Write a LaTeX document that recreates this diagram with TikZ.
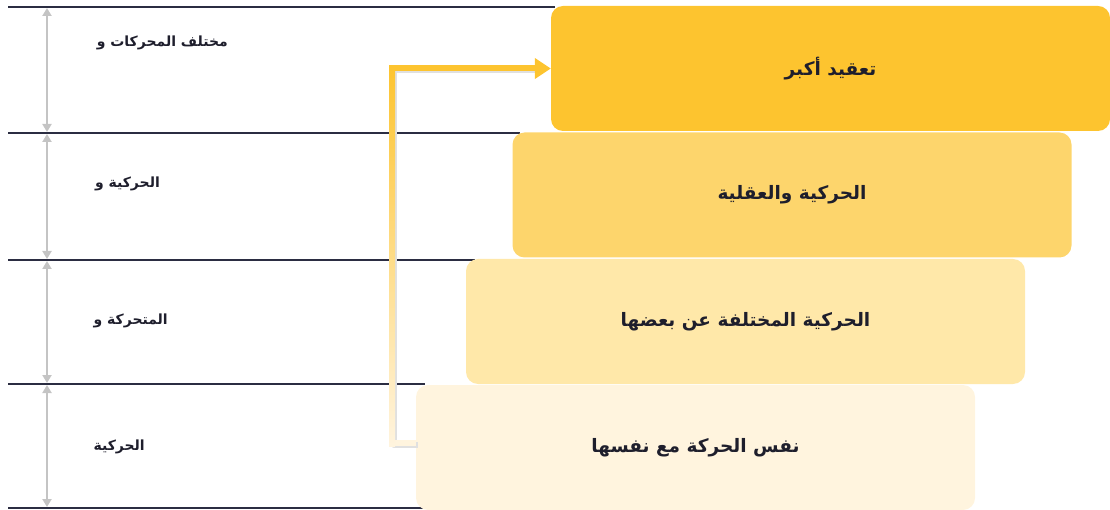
\documentclass[tikz,border=0pt]{standalone}
\usepackage{fontspec}
\newfontfamily\arabicfont[Script=Arabic]{DejaVu Sans}
\TeXXeTstate=1
\usetikzlibrary{arrows.meta}
\definecolor{navy}{HTML}{2B2D42}
\definecolor{greyarr}{HTML}{C4C4C4}
\definecolor{txt}{HTML}{1E1E2C}
\definecolor{cA}{HTML}{FDC42F}
\definecolor{cB}{HTML}{FDD56C}
\definecolor{cC}{HTML}{FFE8A9}
\definecolor{cD}{HTML}{FFF4DE}
\begin{document}
\begin{tikzpicture}[x=1pt,y=-1pt,
  sep/.style={draw=navy,line width=2pt},
  dim/.style={draw=greyarr,line width=2pt,{Triangle[length=8pt,width=9pt]}-{Triangle[length=8pt,width=9pt]}},
  lvl/.style={rounded corners=12pt,minimum width=559pt,minimum height=125pt,inner sep=0pt,text=txt,font=\arabicfont\bfseries\fontsize{18.5}{22}\selectfont},
  lab/.style={anchor=east,inner sep=0pt,text=txt,font=\arabicfont\bfseries\fontsize{14}{16}\selectfont},
  conn/.style={line width=6pt}]
\useasboundingbox (0,0) rectangle (1110,510);
% separator lines
\coordinate (l0a) at (8,7);   \coordinate (l0b) at (555,7);
\coordinate (l1a) at (8,133); \coordinate (l1b) at (520,133);
\coordinate (l2a) at (8,260); \coordinate (l2b) at (475,260);
\coordinate (l3a) at (8,384); \coordinate (l3b) at (425,384);
\coordinate (l4a) at (8,508); \coordinate (l4b) at (425,508);
\draw[sep] (l0a) -- (l0b);
\draw[sep] (l1a) -- (l1b);
\draw[sep] (l2a) -- (l2b);
\draw[sep] (l3a) -- (l3b);
\draw[sep] (l4a) -- (l4b);
% dimension arrows
\coordinate (d0) at (47,8);   \coordinate (d1) at (47,132);
\coordinate (d2) at (47,134); \coordinate (d3) at (47,259);
\coordinate (d4) at (47,261); \coordinate (d5) at (47,383);
\coordinate (d6) at (47,385); \coordinate (d7) at (47,507);
\draw[dim] (d0) -- (d1);
\draw[dim] (d2) -- (d3);
\draw[dim] (d4) -- (d5);
\draw[dim] (d6) -- (d7);
% labels
\node[lab] (t1) at (228,43) {\beginR مختلف المحركات و\endR};
\node[lab] (t2) at (160,184) {\beginR الحركية و\endR};
\node[lab] (t3) at (168,321) {\beginR المتحركة و\endR};
\node[lab] (t4) at (145,447) {\beginR الحركية\endR};
% level boxes
\node[lvl,fill=cD] (n4) at (695.5,447.5) {\beginR نفس الحركة مع نفسها\endR};
\node[lvl,fill=cC] (n3) at (745.5,321.5) {\beginR الحركية المختلفة عن بعضها\endR};
\node[lvl,fill=cB] (n2) at (792,195) {\beginR الحركية والعقلية\endR};
\node[lvl,fill=cA] (n1) at (830.5,68.5) {\beginR تعقيد أكبر\endR};
% connector
\coordinate (cb) at (392,443);
\coordinate (ct) at (392,68.5);
\draw[conn,draw=black!12,line join=round] ([shift={(2,2)}]n4.west |- cb) -- ([shift={(2,2)}]cb) -- ([shift={(2,2)}]ct) -- ([shift={(-8,2)}]n1.west);
\draw[conn,draw=cD,line cap=butt] (n4.west |- cb) -- ([xshift=-3pt]cb);
\shade[top color=cA,bottom color=cD] ([shift={(-3,-3)}]ct) rectangle ([shift={(3,3)}]cb);
\draw[conn,draw=cA,-{Triangle[length=16pt,width=20pt]}] ([xshift=-3pt]ct) -- (n1.west);
\end{tikzpicture}
\end{document}
